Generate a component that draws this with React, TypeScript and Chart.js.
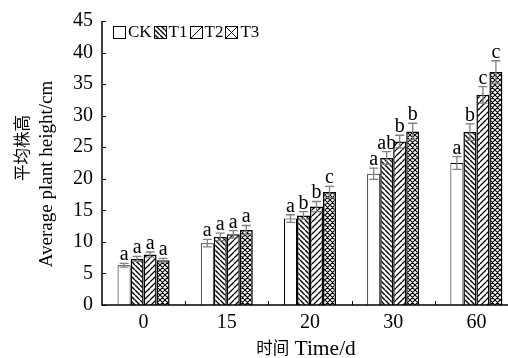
import React, { useEffect, useRef } from 'react';
import { Chart, registerables } from 'chart.js';

Chart.register(...registerables);

// ---- data ----
const categories = ['0', '15', '20', '30', '60'];
const seriesNames = ['CK', 'T1', 'T2', 'T3'];
const ckValues = [6.3, 9.8, 13.7, 20.8, 22.5];
const t1Values = [7.3, 10.8, 14.2, 23.3, 27.4];
const t2Values = [8.0, 11.2, 15.6, 25.9, 33.3];
const t3Values = [7.1, 11.9, 17.9, 27.5, 36.9];
const ckErrors = [0.3, 0.6, 0.6, 0.9, 1.0];
const t1Errors = [0.4, 0.6, 0.6, 1.0, 1.3];
const t2Errors = [0.4, 0.6, 0.8, 1.0, 1.3];
const t3Errors = [0.3, 0.7, 0.9, 1.3, 1.8];
const ckLetters = ['a', 'a', 'a', 'a', 'a'];
const t1Letters = ['a', 'a', 'b', 'ab', 'b'];
const t2Letters = ['a', 'a', 'b', 'b', 'c'];
const t3Letters = ['a', 'a', 'c', 'b', 'c'];
const yMin = 0;
const yMax = 45;
const yStep = 5;
const xTitleZh = '时间';
const xTitleEn = 'Time/d';
const yTitleZh = '平均株高';
const yTitleEn = 'Average plant height/cm';

const allValues = [ckValues, t1Values, t2Values, t3Values];
const allErrors = [ckErrors, t1Errors, t2Errors, t3Errors];
const allLetters = [ckLetters, t1Letters, t2Letters, t3Letters];

const SERIF = "'Liberation Serif', 'Times New Roman', serif";
const CJK = "'Noto Sans CJK SC', sans-serif";
const FS = 20;
const XT_FS = 21.5;
const YT_FS = 19;
const LEG_FS = 17;
const ZH_FS = 16.5;

const CW = 530;
const CH = 358;

function makePattern(ctx: CanvasRenderingContext2D, kind: string, size: number, lw: number) {
  const c = document.createElement('canvas');
  c.width = size;
  c.height = size;
  const g = c.getContext('2d')!;
  g.fillStyle = '#fff';
  g.fillRect(0, 0, size, size);
  g.strokeStyle = '#000';
  g.lineWidth = lw;
  g.beginPath();
  if (kind === 'back' || kind === 'cross') {
    for (const o of [-size, 0, size]) {
      g.moveTo(o, 0);
      g.lineTo(o + size, size);
    }
  }
  if (kind === 'fwd' || kind === 'cross') {
    for (const o of [-size, 0, size]) {
      g.moveTo(o, size);
      g.lineTo(o + size, 0);
    }
  }
  g.stroke();
  return ctx.createPattern(c, 'repeat')!;
}

export default function App() {
  const ref = useRef<HTMLCanvasElement | null>(null);

  useEffect(() => {
    const canvas = ref.current!;
    const ctx = canvas.getContext('2d')!;
    const patT1 = makePattern(ctx, 'back', 5, 1.4);
    const patT2 = makePattern(ctx, 'fwd', 6, 1.3);
    const patT3 = makePattern(ctx, 'cross', 5, 1.1);
    const fills: any[] = ['#ffffff', patT1, patT2, patT3];

    const decor = {
      id: 'decor',
      afterDatasetsDraw(chart: any) {
        const { ctx, chartArea: a, scales } = chart;
        const y = scales.y;
        ctx.save();
        chart.data.datasets.forEach((ds: any, di: number) => {
          const meta = chart.getDatasetMeta(di);
          meta.data.forEach((bar: any, i: number) => {
            const v = ds.data[i];
            const e = allErrors[di][i];
            const px = bar.x;
            const yTop = y.getPixelForValue(v + e);
            const yBot = y.getPixelForValue(v - e);
            ctx.strokeStyle = '#808080';
            ctx.lineWidth = 1.3;
            ctx.beginPath();
            ctx.moveTo(px, yTop);
            ctx.lineTo(px, yBot);
            ctx.moveTo(px - 4.5, yTop);
            ctx.lineTo(px + 4.5, yTop);
            ctx.moveTo(px - 4.5, yBot);
            ctx.lineTo(px + 4.5, yBot);
            ctx.stroke();
            ctx.fillStyle = '#000';
            ctx.font = `${FS}px ${SERIF}`;
            ctx.textAlign = 'center';
            ctx.textBaseline = 'alphabetic';
            ctx.fillText(allLetters[di][i], px, yTop - 3);
          });
        });
        ctx.strokeStyle = '#000';
        ctx.lineWidth = 1.5;
        ctx.beginPath();
        ctx.moveTo(a.left, a.top);
        ctx.lineTo(a.left, a.bottom);
        ctx.lineTo(a.right + 2, a.bottom);
        ctx.stroke();
        ctx.lineWidth = 1;
        ctx.beginPath();
        for (let v = yMin; v <= yMax; v += yStep) {
          const py = Math.round(y.getPixelForValue(v)) + 0.5;
          ctx.moveTo(a.left, py);
          ctx.lineTo(a.left + 4, py);
        }
        const n = categories.length;
        const cw = (a.right - a.left) / n;
        for (let k = 1; k < n; k++) {
          const px = Math.round(a.left + k * cw) + 0.5;
          ctx.moveTo(px, a.bottom);
          ctx.lineTo(px, a.bottom - 4);
        }
        ctx.stroke();
        ctx.restore();
      },
      afterDraw(chart: any) {
        const { ctx, chartArea: a } = chart;
        ctx.save();
        // legend
        ctx.font = `${LEG_FS}px ${SERIF}`;
        ctx.textAlign = 'left';
        ctx.textBaseline = 'middle';
        let x = a.left + 11;
        const cy = a.top + 11;
        const bs = 12;
        seriesNames.forEach((name, di) => {
          const bx = Math.round(x) + 0.5;
          const by = Math.round(cy - bs / 2) + 0.5;
          ctx.fillStyle = di === 1 ? fills[1] : '#fff';
          ctx.fillRect(bx, by, bs, bs);
          ctx.strokeStyle = '#000';
          ctx.lineWidth = 1;
          if (di === 2 || di === 3) {
            ctx.beginPath();
            ctx.moveTo(bx, by + bs);
            ctx.lineTo(bx + bs, by);
            if (di === 3) {
              ctx.moveTo(bx, by);
              ctx.lineTo(bx + bs, by + bs);
            }
            ctx.stroke();
          }
          ctx.strokeRect(bx, by, bs, bs);
          ctx.fillStyle = '#000';
          ctx.fillText(name, x + bs + 3, cy + 1);
          x += bs + 3 + ctx.measureText(name).width + 2;
        });

        // x axis title (mixed fonts)
        ctx.textBaseline = 'alphabetic';
        ctx.textAlign = 'left';
        ctx.font = `${ZH_FS}px ${CJK}`;
        const wZh = ctx.measureText(xTitleZh).width;
        ctx.font = `${XT_FS}px ${SERIF}`;
        const wSp = ctx.measureText(' ').width;
        const wEn = ctx.measureText(xTitleEn).width;
        const total = wZh + wSp + wEn;
        const xc = 306;
        let tx = xc - total / 2;
        const baseY = 355;
        ctx.font = `${ZH_FS}px ${CJK}`;
        ctx.fillText(xTitleZh, tx, baseY - 1);
        tx += wZh + wSp;
        ctx.font = `${XT_FS}px ${SERIF}`;
        ctx.fillText(xTitleEn, tx, baseY);

        // y axis title (two lines)
        ctx.textAlign = 'center';
        ctx.textBaseline = 'middle';
        ctx.save();
        ctx.translate(22, 148);
        ctx.rotate(-Math.PI / 2);
        ctx.font = `${ZH_FS}px ${CJK}`;
        ctx.fillText(yTitleZh, 0, 0);
        ctx.restore();
        ctx.save();
        ctx.translate(47, 174);
        ctx.rotate(-Math.PI / 2);
        ctx.font = `${YT_FS}px ${SERIF}`;
        ctx.fillText(yTitleEn, 0, 0);
        ctx.restore();

        ctx.restore();
      },
    };

    const chart = new Chart(canvas, {
      type: 'bar',
      data: {
        labels: categories,
        datasets: seriesNames.map((name, di) => ({
          label: name,
          data: allValues[di],
          backgroundColor: fills[di],
          borderColor: '#000',
          borderWidth: di === 0 ? 1 : 1.5,
          borderSkipped: 'bottom' as const,
          barPercentage: 1,
          categoryPercentage: 0.625,
        })),
      },
      options: {
        responsive: false,
        animation: false,
        devicePixelRatio: 1,
        layout: { padding: { left: 0, top: 20, right: CW - 518, bottom: 0 } },
        plugins: {
          legend: { display: false },
          tooltip: { enabled: false },
        },
        scales: {
          x: {
            grid: { display: false, drawTicks: false },
            border: { display: false },
            ticks: { color: '#000', font: { family: SERIF, size: FS }, padding: 6 },
            afterFit(scale: any) {
              scale.height = CH - 305;
            },
          },
          y: {
            min: yMin,
            max: yMax,
            grid: { display: false, drawTicks: false },
            border: { display: false },
            ticks: { stepSize: yStep, color: '#000', font: { family: SERIF, size: FS }, padding: 9 },
            afterFit(scale: any) {
              scale.width = 102;
            },
          },
        },
      },
      plugins: [decor],
    });
    return () => chart.destroy();
  }, []);

  return (
    <div
      style={{
        position: 'fixed',
        left: 0,
        top: 0,
        width: 508,
        height: 358,
        overflow: 'hidden',
        background: '#fff',
      }}
    >
      <canvas ref={ref} width={CW} height={CH} style={{ display: 'block' }} />
    </div>
  );
}
